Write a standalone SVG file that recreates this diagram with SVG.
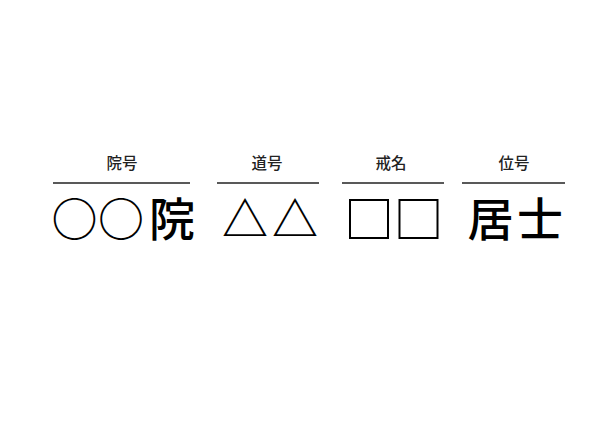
<svg xmlns="http://www.w3.org/2000/svg" width="615" height="435" viewBox="0 0 615 435">
<style>
.lbl{font-family:"Noto Sans CJK JP","Noto Sans CJK SC",sans-serif;font-size:15.5px;font-weight:500;fill:#222;text-anchor:middle}
.big{font-family:"Noto Sans CJK JP","Noto Sans CJK SC",sans-serif;font-size:46px;font-weight:500;fill:#000;text-anchor:middle}
.rule{stroke:#222;stroke-width:1.6}
</style>
<rect width="615" height="435" fill="#fff"/>
<g id="ingo">
<text class="lbl" x="122" y="169">院号</text>
<line class="rule" x1="53" y1="183" x2="190" y2="183"/>
<text class="big" x="74.5 121 172" y="236">○○院</text>
</g>
<g id="dogo">
<text class="lbl" x="267" y="169">道号</text>
<line class="rule" x1="217" y1="183" x2="319" y2="183"/>
<text class="big" x="245 295" y="236">△△</text>
</g>
<g id="kaimyo">
<text class="lbl" x="391" y="169">戒名</text>
<line class="rule" x1="342" y1="183" x2="444" y2="183"/>
<text class="big" x="369 418.5" y="238" style="font-size:50px">□□</text>
</g>
<g id="igo">
<text class="lbl" x="514" y="169">位号</text>
<line class="rule" x1="462" y1="183" x2="565" y2="183"/>
<text class="big" x="490.5 540" y="236">居士</text>
</g>
</svg>
